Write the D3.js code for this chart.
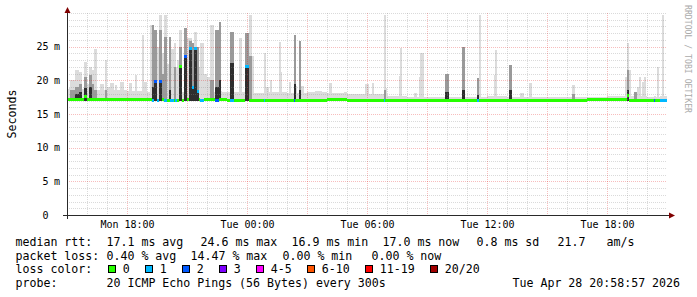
<!DOCTYPE html>
<html>
<head>
<meta charset="utf-8">
<script src="https://cdn.jsdelivr.net/npm/d3@7"></script>
<style>
  body { margin: 0; background: #fff; }
  svg { display: block; }
  text { font-family: "DejaVu Sans Mono", monospace; }
</style>
</head>
<body>
<div id="chart"></div>
<script>
"use strict"

// 30 hour window, rrd step 300s
var tStart = new Date(2026, 3, 27, 15, 0, 0);
var tEnd = new Date(2026, 3, 28, 21, 0, 0);
var stepMin = 5;
var smokeMin = 16.9;

// hourly background smoke top and median (ms)
var baseTop = [18.7, 18.5, 18.6, 18.4, 18.3, 18.3, 18.2, 18.3, 18.2, 18.1,
               18.2, 18.1, 18.2, 18.1, 18.0, 17.9, 17.6, 17.5, 17.5, 17.5,
               17.5, 17.6, 17.5, 17.5, 17.5, 17.5, 17.5, 17.6, 17.6, 17.5];
var baseMed = [17.1, 17.1, 17.2, 17.1, 17.1, 17.0, 17.1, 17.1, 17.0, 17.0,
               17.0, 17.0, 17.0, 17.1, 17.0, 17.0, 17.0, 17.0, 17.0, 17.0,
               17.0, 17.0, 17.0, 17.0, 17.0, 17.0, 17.1, 17.1, 17.0, 17.0];

// spikes: minutes after start, length (min), smoke levels (ms), median, lost pings
var spikeStart = [5, 10, 25, 35, 50, 55, 65, 75, 80, 100, 115, 120, 130, 145, 160, 185, 205, 225,
                  250, 255, 260, 270, 275, 290, 295, 305, 310, 325, 335, 350, 360, 365, 375, 380, 390, 400,
                  430, 445, 455, 460, 490, 515, 535, 545, 555, 590, 595, 610, 635, 640, 665, 680, 685, 695,
                  700, 745, 785, 830, 895, 915, 950, 955, 970, 995, 1000, 1040, 1055, 1060, 1135, 1185,
                  1230, 1235, 1280, 1285, 1325, 1360, 1385, 1515, 1675, 1680, 1685, 1700, 1710, 1715,
                  1725, 1730, 1760, 1770, 1780, 1785, 1790,
                  230, 285, 300, 320, 330, 385, 395, 410, 420];
var spikeLen = [10, 15, 10, 10, 10, 10, 10, 5, 10, 10, 5, 10, 10, 5, 10, 10, 5, 5,
                5, 5, 10, 5, 10, 10, 5, 5, 10, 5, 10, 10, 5, 10, 5, 10, 5, 10,
                10, 10, 5, 5, 10, 10, 10, 10, 5, 5, 10, 5, 5, 5, 5, 5, 5, 5,
                10, 20, 10, 10, 10, 5, 5, 5, 10, 5, 5, 10, 5, 10, 10, 10,
                5, 5, 5, 5, 10, 10, 10, 10, 5, 5, 5, 10, 5, 5,
                5, 5, 5, 5, 5, 5, 10,
                10, 5, 5, 5, 5, 5, 5, 10, 10];
var spikeTop = [18.9, 20.0, 21.5, 21.3, 22.7, 19.5, 22.0, 21.5, 24.6, 19.5, 23.0, 19.0, 19.6, 19.3, 19.8, 19.6, 20.8, 26.7,
                28.2, 28.2, 27.5, 25.0, 29.7, 29.7, 19.0, 26.4, 24.6, 22.0, 27.5, 27.8, 26.3, 26.3, 25.5, 27.2, 25.0, 25.5,
                28.2, 27.5, 28.7, 18.4, 27.2, 26.3, 27.0, 29.7, 23.6, 24.0, 19.0, 20.0, 25.7, 21.3, 19.8, 26.7, 19.2, 25.9,
                19.2, 18.4, 19.6, 18.2, 19.4, 19.6, 29.7, 18.8, 17.7, 20.7, 24.8, 18.1, 20.5, 24.0, 21.0, 25.0,
                20.3, 29.7, 20.8, 24.5, 22.3, 18.1, 19.6, 19.3, 20.5, 25.5, 21.5, 18.2, 19.0, 20.5,
                19.8, 20.5, 17.7, 22.0, 17.6, 29.7, 17.6,
                19.8, 24.0, 22.5, 25.5, 23.0, 24.0, 22.0, 21.0, 20.5];
var spikeMid = [null, 18.5, 19.0, 19.5, 20.5, null, 20.8, 19.5, 18.5, null, 18.6, null, null, null, null, null, null, null,
                null, 28.2, 27.5, null, 27.5, 26.5, null, 26.4, null, null, 25.0, 27.8, null, 25.9, 25.5, 24.8, 25.0, null,
                20.0, 27.5, 28.7, null, 27.2, null, 27.0, 23.6, null, null, null, null, null, null, null, 26.7, null, 25.9,
                null, null, null, null, null, null, 18.5, null, null, null, null, null, null, null, 21.0, 25.0,
                20.3, null, null, null, 22.3, null, null, 18.0, null, 21.5, null, 18.2, null, null,
                null, null, null, null, null, null, null,
                null, 21.0, null, 22.0, null, 21.5, null, null, null];
var spikeDark = [null, null, 18.0, 18.3, 18.8, null, 19.0, null, null, null, null, null, null, null, null, null, null, null,
                 null, 19.0, 19.8, null, 19.9, null, null, 18.5, null, null, 22.0, 23.5, null, 24.8, 18.9, 24.8, 18.3, null,
                 null, 19.0, 20.0, null, 22.6, null, 22.0, null, null, null, null, null, null, null, null, 19.5, null, 18.5,
                 null, null, null, null, null, null, null, null, null, null, null, null, null, null, 18.3, 18.5,
                 17.8, null, null, null, 18.5, null, null, null, null, 18.6, null, null, null, null,
                 null, null, null, null, null, null, null,
                 null, null, null, null, null, null, null, null, null];
var spikeMed = [null, null, null, null, 17.6, null, null, null, null, null, null, null, null, null, null, null, null, null,
                null, 17.0, 19.8, 17.0, 19.9, 17.0, null, null, 17.0, 17.0, 22.0, 23.5, null, 24.8, 18.9, 24.8, 18.3, 17.0,
                null, 17.0, null, null, 17.0, null, 22.0, null, null, 17.0, null, null, null, null, null, 17.0, null, null,
                null, null, null, null, null, null, 17.0, null, null, null, null, null, null, null, null, null,
                17.0, null, null, null, null, null, null, null, null, 17.8, null, null, null, null,
                null, null, 17.0, null, 17.0, 17.0, 17.0,
                null, null, null, null, null, null, null, null, null];
var spikeLoss = [0, 0, 0, 0, 0, 0, 0, 0, 0, 0, 0, 0, 0, 0, 0, 0, 0, 0,
                 0, 1, 2, 1, 2, 1, 0, 0, 1, 1, 0, 2, 0, 1, 1, 1, 1, 1,
                 0, 2, 0, 0, 1, 0, 1, 0, 0, 1, 0, 0, 0, 0, 0, 2, 0, 0,
                 0, 0, 0, 0, 0, 0, 1, 0, 0, 0, 0, 0, 0, 0, 0, 0,
                 1, 0, 0, 0, 0, 0, 0, 0, 0, 0, 0, 0, 0, 0,
                 0, 0, 2, 0, 1, 1, 1,
                 0, 0, 0, 0, 0, 0, 0, 0, 0];

var yTicks = [0, 5, 10, 15, 20, 25];
var lossLabels = ["0", "1", "2", "3", "4-5", "6-10", "11-19", "20/20"];
var lossMax = [0, 1, 2, 3, 5, 10, 19, 20];
var lossColors = ["#26ff00", "#00b8ff", "#0059ff", "#7e00ff", "#ff00ff", "#ff5500", "#ff0000", "#a10000"];
var smokeShades = ["#dcdcdc", "#9a9a9a", "#2e2e2e"];

var legendRtt = [[16, "median rtt:"], [107, "17.1 ms avg"], [201, "24.6 ms max"], [292, "16.9 ms min"],
                 [383, "17.0 ms now"], [477, "0.8 ms sd"], [558, "21.7"], [607, "am/s"]];
var legendLoss = [[16, "packet loss:"], [107, "0.40 % avg"], [191, "14.47 % max"], [283, "0.00 % min"],
                  [372, "0.00 % now"]];
var legendProbe = [[16, "probe:"], [107, "20 ICMP Echo Pings (56 Bytes) every 300s"],
                   [513, "Tue Apr 28 20:58:57 2026"]];

var width = 697, height = 297;
var fontMono = "\"DejaVu Sans Mono\", monospace";

var svg = d3.select("#chart")
  .append("svg")
    .attr("width", width)
    .attr("height", height)
    .style("background", "#fff");

var x = d3.scaleTime().domain([tStart, tEnd]).range([67, 667]);
var y = d3.scaleLinear().domain([0, 30]).range([215, 13]);

function tAt(min) { return new Date(tStart.getTime() + min * 60000); }
function lossColor(l) { return lossColors[d3.bisectLeft(lossMax, l)]; }
function spanW(s, len) { return Math.max(2, x(tAt(s + len)) - x(tAt(s))); }

// smoke
const plot = svg.append("g").attr("shape-rendering", "crispEdges");

plot.append("g").selectAll("rect")
  .data(baseTop)
  .join("rect")
    .attr("x", (d, i) => x(tAt(i * 60)))
    .attr("width", (d, i) => x(tAt(i * 60 + 60)) - x(tAt(i * 60)))
    .attr("y", d => y(d))
    .attr("height", d => y(smokeMin) - y(d))
    .attr("fill", smokeShades[0]);

[spikeTop, spikeMid, spikeDark].forEach((lv, j) => {
  const idx = d3.range(spikeStart.length).filter(k => lv[k] != null);
  plot.append("g").selectAll("rect")
    .data(idx)
    .join("rect")
      .attr("x", k => x(tAt(spikeStart[k])))
      .attr("width", k => spanW(spikeStart[k], spikeLen[k]))
      .attr("y", k => y(lv[k]))
      .attr("height", k => y(smokeMin) - y(lv[k]))
      .attr("fill", smokeShades[j]);
});

// grid (dotted, drawn over the smoke like rrdtool does)
const grid = svg.append("g").attr("shape-rendering", "crispEdges");
const hMinor = d3.range(1, 31).filter(v => v % 5 != 0).concat([30]);
const hMajor = [5, 10, 15, 20, 25];
const vAll = d3.timeHour.range(d3.timeHour.offset(tStart, 1), tEnd);
const minorCol = "rgba(140,140,140,0.32)", majorCol = "rgba(225,0,0,0.26)";

function hLines(vals, col) {
  grid.append("g").selectAll("line").data(vals).join("line")
    .attr("x1", 67).attr("x2", 667)
    .attr("y1", d => Math.round(y(d)) + 0.5).attr("y2", d => Math.round(y(d)) + 0.5)
    .attr("stroke", col).attr("stroke-dasharray", "1,1");
}
function vLines(vals, col) {
  grid.append("g").selectAll("line").data(vals).join("line")
    .attr("x1", d => Math.round(x(d)) + 0.5).attr("x2", d => Math.round(x(d)) + 0.5)
    .attr("y1", 13).attr("y2", 215)
    .attr("stroke", col).attr("stroke-dasharray", "1,1");
}
hLines(hMinor, minorCol);
vLines(vAll.filter(d => d.getHours() % 3 != 0), minorCol);
hLines(hMajor, majorCol);
vLines(vAll.filter(d => d.getHours() % 3 == 0), majorCol);

// median line, coloured by loss
const nSteps = (tEnd - tStart) / 60000 / stepMin;
const medStep = d3.range(nSteps).map(i => baseMed[Math.floor(i * stepMin / 60)]);
const lossStep = d3.range(nSteps).map(() => 0);
spikeStart.forEach((s, k) => {
  if (spikeMed[k] == null) return;
  for (let m = s; m < s + spikeLen[k]; m += stepMin) {
    medStep[m / stepMin] = spikeMed[k];
    lossStep[m / stepMin] = spikeLoss[k];
  }
});

svg.append("g").attr("shape-rendering", "crispEdges")
  .selectAll("rect")
  .data(d3.range(nSteps))
  .join("rect")
    .attr("x", i => x(tAt(i * stepMin)))
    .attr("width", i => x(tAt((i + 1) * stepMin)) - x(tAt(i * stepMin)))
    .attr("y", i => y(medStep[i]) - 1.5)
    .attr("height", 3)
    .attr("fill", i => lossColor(lossStep[i]));

// axes
const axisCol = "#2a2a2a", arrowCol = "#800000";
svg.append("line").attr("x1", 63).attr("x2", 670).attr("y1", 215.5).attr("y2", 215.5)
  .attr("stroke", axisCol).attr("shape-rendering", "crispEdges");
svg.append("line").attr("x1", 67.5).attr("x2", 67.5).attr("y1", 219).attr("y2", 12)
  .attr("stroke", axisCol).attr("shape-rendering", "crispEdges");
svg.append("path").attr("d", "M669,212.5L669,218.5L675,215.5Z").attr("fill", arrowCol);
svg.append("path").attr("d", "M64.5,13L70.5,13L67.5,7Z").attr("fill", arrowCol);

const xAxis = d3.axisBottom(x)
  .ticks(d3.timeHour.every(6))
  .tickFormat(d3.timeFormat("%a %H:%M"))
  .tickSize(0)
  .tickPadding(6);
svg.append("g")
    .attr("transform", "translate(0,215)")
    .call(xAxis)
    .call(g => g.select(".domain").remove())
    .attr("font-family", fontMono)
    .attr("font-size", 10)
  .selectAll("text")
    .attr("fill", "#000");

const yLab = svg.append("g").attr("font-size", 10).attr("fill", "#000");
yLab.selectAll("text.num").data(yTicks).join("text")
  .attr("x", 48.5).attr("y", d => y(d) + 3.6)
  .attr("text-anchor", "end")
  .text(d => d);
yLab.selectAll("text.unit").data(yTicks.filter(d => d > 0)).join("text")
  .attr("x", 54).attr("y", d => y(d) + 3.6)
  .text("m");

svg.append("text")
  .attr("transform", "translate(15.5,114) rotate(-90)")
  .attr("text-anchor", "middle")
  .attr("font-size", 11.6)
  .text("Seconds");

svg.append("text")
  .attr("transform", "translate(685,5) rotate(90)")
  .attr("font-size", 9.5)
  .attr("textLength", 108)
  .attr("lengthAdjust", "spacingAndGlyphs")
  .attr("fill", "#aaaaaa")
  .text("RRDTOOL / TOBI OETIKER");

// legend
const legend = svg.append("g").attr("font-size", 11.6).attr("fill", "#000");
[legendRtt, legendLoss, null, legendProbe].forEach((row, r) => {
  if (!row) return;
  legend.append("g").selectAll("text").data(row).join("text")
    .attr("x", d => d[0] - 0.5)
    .attr("y", 245.7 + r * 13.8)
    .text(d => d[1]);
});

const rowY = 245.7 + 2 * 13.8;
legend.append("text").attr("x", 15.5).attr("y", rowY).text("loss color:");
let lx = 108.3;
const boxX = lossLabels.map(l => { const v = lx; lx += 30 + 7 * l.length; return v; });
legend.append("g").selectAll("rect").data(lossLabels).join("rect")
  .attr("x", (d, i) => Math.round(boxX[i]) + 0.5)
  .attr("y", rowY - 8)
  .attr("width", 7).attr("height", 7)
  .attr("fill", (d, i) => lossColors[i])
  .attr("stroke", "#000")
  .attr("shape-rendering", "crispEdges");
legend.append("g").selectAll("text").data(lossLabels).join("text")
  .attr("x", (d, i) => boxX[i] + 14.5)
  .attr("y", rowY)
  .text(d => d);
</script>
</body>
</html>
